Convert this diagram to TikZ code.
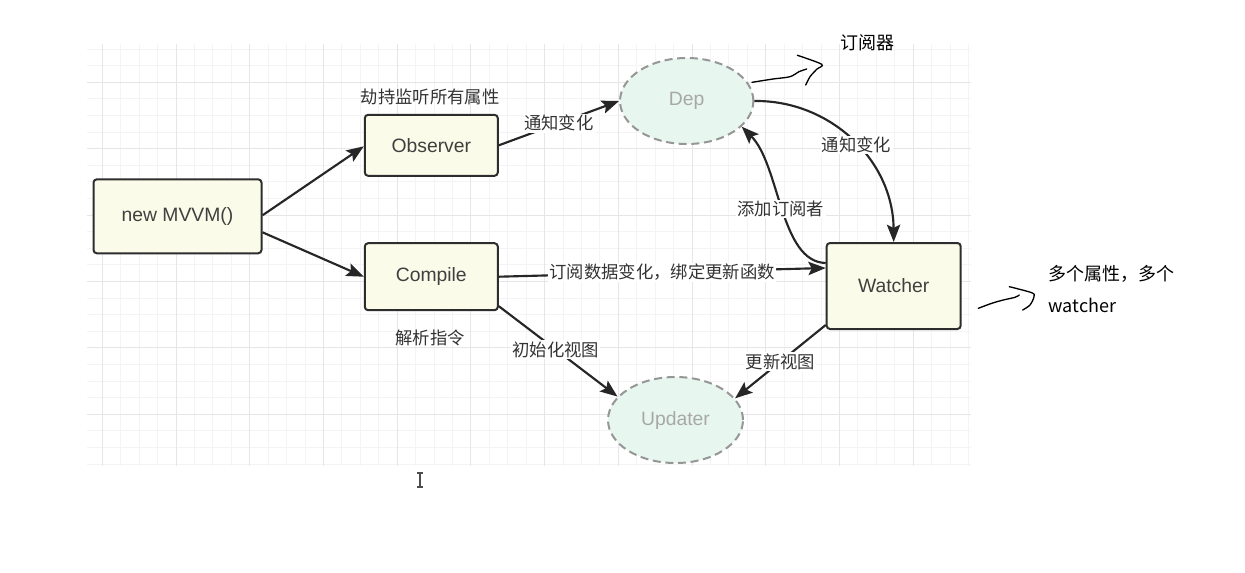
\documentclass[tikz,border=0pt]{standalone}
\usepackage{fontspec}
\setmainfont{Liberation Sans}
\newfontfamily\cjk{Noto Sans CJK SC}
\usepackage{xcolor}
\usetikzlibrary{arrows.meta,shapes.geometric,positioning,calc}
\definecolor{box-fill}{RGB}{251,251,233}
\definecolor{box-line}{RGB}{45,45,45}
\definecolor{dep-fill}{RGB}{231,247,240}
\definecolor{dep-line}{RGB}{150,150,150}
\definecolor{dep-text}{RGB}{168,168,168}
\definecolor{grid-minor}{RGB}{244,244,246}
\definecolor{grid-major}{RGB}{230,230,234}
\newcommand{\lbl}{\cjk\fontsize{13}{15}\selectfont}
\newcommand{\note}{\cjk\fontsize{13.5}{24}\selectfont}

\begin{document}
\begin{tikzpicture}
      [x=0.75pt, y=-0.75pt, component/.style = {shape=rectangle,
        draw=box-line, fill=box-fill, line width=1.5pt, rounded
        corners=2.5pt, text=black!75, font=\fontsize{14.5}{17}\selectfont},
      store/.style = {shape=ellipse, draw=dep-line, fill=dep-fill,
        line width=1.5pt, dash pattern=on 6pt off 3.5pt, text=dep-text,
        minimum width=100pt, minimum height=64.5pt,
        font=\fontsize{14.5}{17}\selectfont}, post/.style={-{Stealth[length=13pt,
        width=10pt, inset=2.5pt]}, line width=1.6pt, draw=black!85},
      tag/.style={fill=white, inner sep=1pt, text=black!80, font=\lbl},
      scribble/.style={line width=1pt, black, line cap=round, line join=round}]

      \fill[white] (0,0) rectangle (1245,572);
      \useasboundingbox (0,0) rectangle (1245,572);
      \foreach \i in {0,...,47}
        \draw[grid-minor, line width=0.75pt] ({102.3+18.43*\i},44) -- ++(0,422);
      \foreach \j in {-2,...,23}
        \draw[grid-minor, line width=0.75pt] (87,{82.3+16.6*\j}) -- ++(884,0);
      \foreach \i in {0,...,11}
        \draw[grid-major, line width=0.75pt] ({102.3+73.72*\i},44) -- ++(0,422);
      \foreach \j in {0,...,5}
        \draw[grid-major, line width=0.75pt] (87,{82.3+66.4*\j}) -- ++(884,0);

      \node [component, minimum width=126pt, minimum height=55.5pt]
      (MVVM) at (177.5,216.3) {new MVVM()};
      \node [component, minimum width=99.75pt, minimum height=45.75pt]
      (Observer) at (431.3,145.3) {Observer};
      \node [component, minimum width=99.75pt, minimum height=50.25pt]
      (Compile) at (431.3,276.7) {Compile};
      \node [component, minimum width=100.5pt, minimum height=64.5pt]
      (Watcher) at (893.7,286) {Watcher};
      \node [store] (Dep) at (686.7,101) {Dep};
      \node [store, minimum width=101.25pt] (Updater) at (675.5,420) {Updater};

      \node [text=black!80, font=\lbl] (Hijack) at (430,96.5) {劫持监听所有属性};
      \node [text=black!80, font=\lbl] (Parse) at (430,338) {解析指令};

      \draw[post] ($(MVVM.east)+(0,-1)$) -- ($(Observer.west)+(0,1)$);
      \draw[post] ($(MVVM.east)+(0,16)$) -- (Compile.west);
      \draw[post] (Observer.east) -- node[tag] {通知变化} (Dep.west);
      \draw[post] (Dep.east) .. controls (830,100) and (893,160) ..
      node[tag, pos=0.53] {通知变化} (Watcher.north);
      \draw[post] ($(Watcher.west)+(0,-23)$) .. controls (780,262) and
      (780,165) .. node[tag] {添加订阅者} (Dep.-25);
      \draw[post] (Compile.east) -- node[tag] {订阅数据变化，绑定更新函数}
      ($(Watcher.west)+(0,-18)$);
      \draw[post] ($(Compile.south east)+(0,-5)$) -- node[tag, pos=0.48]
      {初始化视图} (Updater.158);
      \draw[post] ($(Watcher.south west)+(0,-5)$) -- node[tag] {更新视图}
      (Updater.20);

      \node [font=\note] (Subscriber) at (867,43) {订阅器};
      \node [font=\note, align=left, anchor=west] (Many) at (1044,289)
      {多个属性，多个\\watcher};
      \draw[scribble] plot[smooth] coordinates {(752,82.3) (773,79) (790,76.7)
        (799,71.7) (806.7,69)};
      \draw[scribble] plot[smooth] coordinates {(797.3,55.3) (821.7,64.3)
        (816.7,69.3) (810,76.7) (805.7,85)};
      \draw[scribble] plot[smooth] coordinates {(978.3,308.3) (991.7,303.3)
        (1003.3,300) (1015,297.3) (1019.3,295)};
      \draw[scribble] plot[smooth] coordinates {(1009.3,286.7) (1031.7,292.7)
        (1034,296.7) (1030,305) (1022.7,310)};

      \draw[black!70, line width=1pt] (417,473) -- (423,473) (420,473) --
      (420,487) (417,487) -- (423,487);
    \end{tikzpicture}
\end{document}
